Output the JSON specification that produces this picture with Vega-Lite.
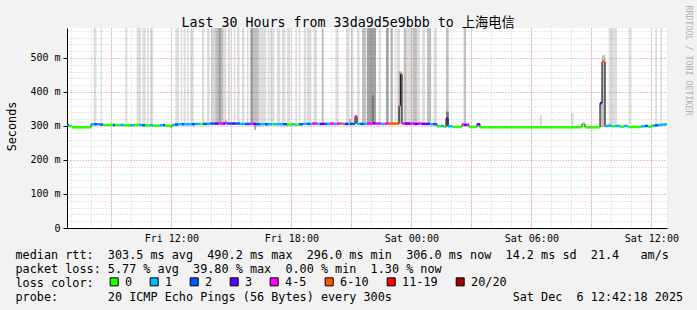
{
  "$schema": "https://vega.github.io/schema/vega-lite/v6.json",
  "width": 600,
  "height": 200,
  "autosize": {"type": "none"},
  "padding": {"left": 67, "top": 28, "right": 30, "bottom": 82},
  "background": "#f2f2f2",
  "config": {
    "view": {"fill": "#ffffff", "stroke": null},
    "font": "DejaVu Sans Mono"
  },
  "datasets": {
    "smoke": [
      {"t": "2025-12-05T08:07", "e": "2025-12-05T08:15", "lo": 304, "hi": 600, "pings": 3},
      {"t": "2025-12-05T08:28", "e": "2025-12-05T08:32", "lo": 304, "hi": 600, "pings": 3},
      {"t": "2025-12-05T09:42", "e": "2025-12-05T09:48", "lo": 304, "hi": 600, "pings": 3},
      {"t": "2025-12-05T10:16", "e": "2025-12-05T10:29", "lo": 304, "hi": 600, "pings": 3},
      {"t": "2025-12-05T10:33", "e": "2025-12-05T10:43", "lo": 304, "hi": 600, "pings": 3},
      {"t": "2025-12-05T10:47", "e": "2025-12-05T10:52", "lo": 304, "hi": 600, "pings": 3},
      {"t": "2025-12-05T10:56", "e": "2025-12-05T11:05", "lo": 304, "hi": 600, "pings": 3},
      {"t": "2025-12-05T12:12", "e": "2025-12-05T12:23", "lo": 304, "hi": 600, "pings": 3},
      {"t": "2025-12-05T12:28", "e": "2025-12-05T12:33", "lo": 304, "hi": 600, "pings": 3},
      {"t": "2025-12-05T12:37", "e": "2025-12-05T12:43", "lo": 304, "hi": 600, "pings": 3},
      {"t": "2025-12-05T12:47", "e": "2025-12-05T12:52", "lo": 304, "hi": 600, "pings": 3},
      {"t": "2025-12-05T12:57", "e": "2025-12-05T13:07", "lo": 304, "hi": 600, "pings": 3},
      {"t": "2025-12-05T13:32", "e": "2025-12-05T13:39", "lo": 304, "hi": 600, "pings": 3},
      {"t": "2025-12-05T13:47", "e": "2025-12-05T13:55", "lo": 304, "hi": 600, "pings": 3},
      {"t": "2025-12-05T13:59", "e": "2025-12-05T14:12", "lo": 304, "hi": 600, "pings": 4},
      {"t": "2025-12-05T14:12", "e": "2025-12-05T14:21", "lo": 304, "hi": 600, "pings": 7},
      {"t": "2025-12-05T14:21", "e": "2025-12-05T14:30", "lo": 304, "hi": 600, "pings": 11},
      {"t": "2025-12-05T14:30", "e": "2025-12-05T14:35", "lo": 304, "hi": 600, "pings": 7},
      {"t": "2025-12-05T14:35", "e": "2025-12-05T14:45", "lo": 304, "hi": 600, "pings": 3},
      {"t": "2025-12-05T14:49", "e": "2025-12-05T14:57", "lo": 304, "hi": 600, "pings": 3},
      {"t": "2025-12-05T15:07", "e": "2025-12-05T15:12", "lo": 304, "hi": 600, "pings": 3},
      {"t": "2025-12-05T15:17", "e": "2025-12-05T15:25", "lo": 304, "hi": 600, "pings": 3},
      {"t": "2025-12-05T15:32", "e": "2025-12-05T15:39", "lo": 304, "hi": 600, "pings": 3},
      {"t": "2025-12-05T15:47", "e": "2025-12-05T15:52", "lo": 304, "hi": 600, "pings": 3},
      {"t": "2025-12-05T15:57", "e": "2025-12-05T16:05", "lo": 304, "hi": 600, "pings": 11},
      {"t": "2025-12-05T16:05", "e": "2025-12-05T16:22", "lo": 304, "hi": 600, "pings": 7},
      {"t": "2025-12-05T16:22", "e": "2025-12-05T16:45", "lo": 304, "hi": 600, "pings": 3},
      {"t": "2025-12-05T16:49", "e": "2025-12-05T16:55", "lo": 304, "hi": 600, "pings": 3},
      {"t": "2025-12-05T16:57", "e": "2025-12-05T17:09", "lo": 304, "hi": 600, "pings": 3},
      {"t": "2025-12-05T17:17", "e": "2025-12-05T17:27", "lo": 304, "hi": 600, "pings": 3},
      {"t": "2025-12-05T17:32", "e": "2025-12-05T17:42", "lo": 304, "hi": 600, "pings": 3},
      {"t": "2025-12-05T17:47", "e": "2025-12-05T17:57", "lo": 304, "hi": 600, "pings": 3},
      {"t": "2025-12-05T18:12", "e": "2025-12-05T18:17", "lo": 304, "hi": 600, "pings": 3},
      {"t": "2025-12-05T18:22", "e": "2025-12-05T18:27", "lo": 304, "hi": 600, "pings": 3},
      {"t": "2025-12-05T18:37", "e": "2025-12-05T18:45", "lo": 304, "hi": 600, "pings": 3},
      {"t": "2025-12-05T18:47", "e": "2025-12-05T18:59", "lo": 304, "hi": 600, "pings": 3},
      {"t": "2025-12-05T19:07", "e": "2025-12-05T19:17", "lo": 304, "hi": 600, "pings": 3},
      {"t": "2025-12-05T19:31", "e": "2025-12-05T19:37", "lo": 304, "hi": 600, "pings": 7},
      {"t": "2025-12-05T20:12", "e": "2025-12-05T20:22", "lo": 304, "hi": 600, "pings": 3},
      {"t": "2025-12-05T20:44", "e": "2025-12-05T20:55", "lo": 304, "hi": 600, "pings": 3},
      {"t": "2025-12-05T21:00", "e": "2025-12-05T21:07", "lo": 304, "hi": 600, "pings": 3},
      {"t": "2025-12-05T21:17", "e": "2025-12-05T21:25", "lo": 304, "hi": 600, "pings": 3},
      {"t": "2025-12-05T21:32", "e": "2025-12-05T21:45", "lo": 304, "hi": 600, "pings": 7},
      {"t": "2025-12-05T21:47", "e": "2025-12-05T22:14", "lo": 304, "hi": 600, "pings": 11},
      {"t": "2025-12-05T22:22", "e": "2025-12-05T22:29", "lo": 304, "hi": 600, "pings": 3},
      {"t": "2025-12-05T22:44", "e": "2025-12-05T22:52", "lo": 304, "hi": 600, "pings": 11},
      {"t": "2025-12-05T22:57", "e": "2025-12-05T23:05", "lo": 304, "hi": 600, "pings": 7},
      {"t": "2025-12-05T23:10", "e": "2025-12-05T23:15", "lo": 304, "hi": 600, "pings": 3},
      {"t": "2025-12-05T23:17", "e": "2025-12-05T23:26", "lo": 304, "hi": 600, "pings": 3},
      {"t": "2025-12-05T23:37", "e": "2025-12-05T23:45", "lo": 304, "hi": 600, "pings": 7},
      {"t": "2025-12-05T23:45", "e": "2025-12-06T00:05", "lo": 304, "hi": 600, "pings": 3},
      {"t": "2025-12-06T00:05", "e": "2025-12-06T00:17", "lo": 304, "hi": 600, "pings": 7},
      {"t": "2025-12-06T00:17", "e": "2025-12-06T00:27", "lo": 304, "hi": 600, "pings": 3},
      {"t": "2025-12-06T00:32", "e": "2025-12-06T00:42", "lo": 304, "hi": 600, "pings": 3},
      {"t": "2025-12-06T00:47", "e": "2025-12-06T00:59", "lo": 304, "hi": 600, "pings": 7},
      {"t": "2025-12-06T01:07", "e": "2025-12-06T01:17", "lo": 304, "hi": 600, "pings": 3},
      {"t": "2025-12-06T01:44", "e": "2025-12-06T01:52", "lo": 304, "hi": 600, "pings": 7},
      {"t": "2025-12-06T02:37", "e": "2025-12-06T02:44", "lo": 304, "hi": 600, "pings": 7},
      {"t": "2025-12-06T09:52", "e": "2025-12-06T10:17", "lo": 304, "hi": 600, "pings": 3},
      {"t": "2025-12-06T10:52", "e": "2025-12-06T10:59", "lo": 304, "hi": 600, "pings": 3},
      {"t": "2025-12-06T12:12", "e": "2025-12-06T12:17", "lo": 304, "hi": 600, "pings": 3},
      {"t": "2025-12-06T12:27", "e": "2025-12-06T12:32", "lo": 304, "hi": 600, "pings": 3},
      {"t": "2025-12-06T06:25", "e": "2025-12-06T06:32", "lo": 296, "hi": 332, "pings": 3},
      {"t": "2025-12-06T07:59", "e": "2025-12-06T08:07", "lo": 296, "hi": 337, "pings": 3},
      {"t": "2025-12-06T09:27", "e": "2025-12-06T09:32", "lo": 296, "hi": 372, "pings": 7},
      {"t": "2025-12-06T09:32", "e": "2025-12-06T09:42", "lo": 296, "hi": 508, "pings": 7},
      {"t": "2025-12-06T01:44", "e": "2025-12-06T01:53", "lo": 298, "hi": 342, "pings": 11},
      {"t": "2025-12-05T22:02", "e": "2025-12-05T22:08", "lo": 306, "hi": 390, "pings": 7},
      {"t": "2025-12-05T20:53", "e": "2025-12-05T20:59", "lo": 306, "hi": 320, "pings": 7},
      {"t": "2025-12-05T14:42", "e": "2025-12-05T14:46", "lo": 306, "hi": 317, "pings": 11},
      {"t": "2025-12-05T16:09", "e": "2025-12-05T16:14", "lo": 288, "hi": 306, "pings": 11},
      {"t": "2025-12-05T23:22", "e": "2025-12-05T23:32", "lo": 306, "hi": 461, "pings": 7},
      {"t": "2025-12-05T21:11", "e": "2025-12-05T21:17", "lo": 306, "hi": 333, "pings": 7}
    ],
    "med": [
      {"t": "2025-12-05T06:47", "e": "2025-12-05T06:53", "rtt": 303, "loss": "2"},
      {"t": "2025-12-05T06:53", "e": "2025-12-05T07:02", "rtt": 300, "loss": "0"},
      {"t": "2025-12-05T07:02", "e": "2025-12-05T07:59", "rtt": 296, "loss": "0"},
      {"t": "2025-12-05T07:59", "e": "2025-12-05T08:08", "rtt": 305, "loss": "1"},
      {"t": "2025-12-05T08:08", "e": "2025-12-05T08:17", "rtt": 305, "loss": "2"},
      {"t": "2025-12-05T08:17", "e": "2025-12-05T08:23", "rtt": 305, "loss": "1"},
      {"t": "2025-12-05T08:23", "e": "2025-12-05T08:27", "rtt": 305, "loss": "4-5"},
      {"t": "2025-12-05T08:27", "e": "2025-12-05T08:35", "rtt": 304, "loss": "2"},
      {"t": "2025-12-05T08:35", "e": "2025-12-05T09:05", "rtt": 303, "loss": "0"},
      {"t": "2025-12-05T09:05", "e": "2025-12-05T09:11", "rtt": 303, "loss": "2"},
      {"t": "2025-12-05T09:11", "e": "2025-12-05T09:26", "rtt": 303, "loss": "0"},
      {"t": "2025-12-05T09:26", "e": "2025-12-05T09:38", "rtt": 303, "loss": "1"},
      {"t": "2025-12-05T09:38", "e": "2025-12-05T09:56", "rtt": 302, "loss": "0"},
      {"t": "2025-12-05T09:56", "e": "2025-12-05T10:08", "rtt": 302, "loss": "1"},
      {"t": "2025-12-05T10:08", "e": "2025-12-05T10:23", "rtt": 303, "loss": "0"},
      {"t": "2025-12-05T10:23", "e": "2025-12-05T10:32", "rtt": 303, "loss": "1"},
      {"t": "2025-12-05T10:32", "e": "2025-12-05T10:41", "rtt": 302, "loss": "2"},
      {"t": "2025-12-05T10:41", "e": "2025-12-05T10:56", "rtt": 302, "loss": "0"},
      {"t": "2025-12-05T10:56", "e": "2025-12-05T11:05", "rtt": 302, "loss": "1"},
      {"t": "2025-12-05T11:05", "e": "2025-12-05T11:26", "rtt": 301, "loss": "0"},
      {"t": "2025-12-05T11:26", "e": "2025-12-05T11:35", "rtt": 302, "loss": "1"},
      {"t": "2025-12-05T11:35", "e": "2025-12-05T11:41", "rtt": 303, "loss": "2"},
      {"t": "2025-12-05T11:41", "e": "2025-12-05T11:56", "rtt": 301, "loss": "0"},
      {"t": "2025-12-05T11:56", "e": "2025-12-05T12:02", "rtt": 298, "loss": "0"},
      {"t": "2025-12-05T12:02", "e": "2025-12-05T12:11", "rtt": 303, "loss": "1"},
      {"t": "2025-12-05T12:11", "e": "2025-12-05T12:20", "rtt": 304, "loss": "2"},
      {"t": "2025-12-05T12:20", "e": "2025-12-05T12:32", "rtt": 305, "loss": "1"},
      {"t": "2025-12-05T12:32", "e": "2025-12-05T12:38", "rtt": 305, "loss": "2"},
      {"t": "2025-12-05T12:38", "e": "2025-12-05T13:02", "rtt": 305, "loss": "1"},
      {"t": "2025-12-05T13:02", "e": "2025-12-05T13:11", "rtt": 305, "loss": "2"},
      {"t": "2025-12-05T13:11", "e": "2025-12-05T13:26", "rtt": 306, "loss": "1"},
      {"t": "2025-12-05T13:26", "e": "2025-12-05T13:35", "rtt": 306, "loss": "0"},
      {"t": "2025-12-05T13:35", "e": "2025-12-05T13:47", "rtt": 306, "loss": "2"},
      {"t": "2025-12-05T13:47", "e": "2025-12-05T13:56", "rtt": 306, "loss": "1"},
      {"t": "2025-12-05T13:56", "e": "2025-12-05T14:11", "rtt": 307, "loss": "2"},
      {"t": "2025-12-05T14:11", "e": "2025-12-05T14:20", "rtt": 307, "loss": "3"},
      {"t": "2025-12-05T14:20", "e": "2025-12-05T14:35", "rtt": 307, "loss": "4-5"},
      {"t": "2025-12-05T14:35", "e": "2025-12-05T14:41", "rtt": 307, "loss": "3"},
      {"t": "2025-12-05T14:41", "e": "2025-12-05T14:47", "rtt": 308, "loss": "4-5"},
      {"t": "2025-12-05T14:47", "e": "2025-12-05T15:02", "rtt": 307, "loss": "2"},
      {"t": "2025-12-05T15:02", "e": "2025-12-05T15:11", "rtt": 307, "loss": "3"},
      {"t": "2025-12-05T15:11", "e": "2025-12-05T15:26", "rtt": 307, "loss": "2"},
      {"t": "2025-12-05T15:26", "e": "2025-12-05T15:41", "rtt": 306, "loss": "1"},
      {"t": "2025-12-05T15:41", "e": "2025-12-05T15:56", "rtt": 306, "loss": "2"},
      {"t": "2025-12-05T15:56", "e": "2025-12-05T16:05", "rtt": 306, "loss": "4-5"},
      {"t": "2025-12-05T16:05", "e": "2025-12-05T16:14", "rtt": 306, "loss": "3"},
      {"t": "2025-12-05T16:14", "e": "2025-12-05T16:26", "rtt": 305, "loss": "2"},
      {"t": "2025-12-05T16:26", "e": "2025-12-05T16:41", "rtt": 305, "loss": "1"},
      {"t": "2025-12-05T16:41", "e": "2025-12-05T16:50", "rtt": 305, "loss": "2"},
      {"t": "2025-12-05T16:50", "e": "2025-12-05T17:02", "rtt": 305, "loss": "1"},
      {"t": "2025-12-05T17:02", "e": "2025-12-05T17:08", "rtt": 305, "loss": "0"},
      {"t": "2025-12-05T17:08", "e": "2025-12-05T17:35", "rtt": 305, "loss": "1"},
      {"t": "2025-12-05T17:35", "e": "2025-12-05T17:47", "rtt": 305, "loss": "2"},
      {"t": "2025-12-05T17:47", "e": "2025-12-05T18:02", "rtt": 304, "loss": "0"},
      {"t": "2025-12-05T18:02", "e": "2025-12-05T18:11", "rtt": 305, "loss": "1"},
      {"t": "2025-12-05T18:11", "e": "2025-12-05T18:23", "rtt": 304, "loss": "0"},
      {"t": "2025-12-05T18:23", "e": "2025-12-05T18:35", "rtt": 305, "loss": "2"},
      {"t": "2025-12-05T18:35", "e": "2025-12-05T18:47", "rtt": 306, "loss": "1"},
      {"t": "2025-12-05T18:47", "e": "2025-12-05T18:56", "rtt": 306, "loss": "2"},
      {"t": "2025-12-05T18:56", "e": "2025-12-05T19:02", "rtt": 306, "loss": "1"},
      {"t": "2025-12-05T19:02", "e": "2025-12-05T19:17", "rtt": 307, "loss": "4-5"},
      {"t": "2025-12-05T19:17", "e": "2025-12-05T19:26", "rtt": 306, "loss": "1"},
      {"t": "2025-12-05T19:26", "e": "2025-12-05T19:38", "rtt": 306, "loss": "3"},
      {"t": "2025-12-05T19:38", "e": "2025-12-05T19:47", "rtt": 306, "loss": "2"},
      {"t": "2025-12-05T19:47", "e": "2025-12-05T19:56", "rtt": 306, "loss": "1"},
      {"t": "2025-12-05T19:56", "e": "2025-12-05T20:08", "rtt": 307, "loss": "4-5"},
      {"t": "2025-12-05T20:08", "e": "2025-12-05T20:17", "rtt": 306, "loss": "1"},
      {"t": "2025-12-05T20:17", "e": "2025-12-05T20:26", "rtt": 307, "loss": "4-5"},
      {"t": "2025-12-05T20:26", "e": "2025-12-05T20:35", "rtt": 307, "loss": "6-10"},
      {"t": "2025-12-05T20:35", "e": "2025-12-05T20:41", "rtt": 306, "loss": "1"},
      {"t": "2025-12-05T20:41", "e": "2025-12-05T20:50", "rtt": 306, "loss": "3"},
      {"t": "2025-12-05T20:50", "e": "2025-12-05T20:56", "rtt": 306, "loss": "1"},
      {"t": "2025-12-05T20:56", "e": "2025-12-05T21:11", "rtt": 306, "loss": "2"},
      {"t": "2025-12-05T21:11", "e": "2025-12-05T21:17", "rtt": 328, "loss": "4-5"},
      {"t": "2025-12-05T21:17", "e": "2025-12-05T21:26", "rtt": 306, "loss": "1"},
      {"t": "2025-12-05T21:26", "e": "2025-12-05T21:38", "rtt": 306, "loss": "2"},
      {"t": "2025-12-05T21:38", "e": "2025-12-05T21:47", "rtt": 306, "loss": "1"},
      {"t": "2025-12-05T21:47", "e": "2025-12-05T22:05", "rtt": 307, "loss": "4-5"},
      {"t": "2025-12-05T22:05", "e": "2025-12-05T22:11", "rtt": 308, "loss": "3"},
      {"t": "2025-12-05T22:11", "e": "2025-12-05T22:29", "rtt": 307, "loss": "4-5"},
      {"t": "2025-12-05T22:29", "e": "2025-12-05T22:41", "rtt": 306, "loss": "1"},
      {"t": "2025-12-05T22:41", "e": "2025-12-05T22:50", "rtt": 307, "loss": "4-5"},
      {"t": "2025-12-05T22:50", "e": "2025-12-05T23:23", "rtt": 307, "loss": "6-10"},
      {"t": "2025-12-05T23:23", "e": "2025-12-05T23:28", "rtt": 359, "loss": "6-10"},
      {"t": "2025-12-05T23:28", "e": "2025-12-05T23:32", "rtt": 453, "loss": "6-10"},
      {"t": "2025-12-05T23:32", "e": "2025-12-05T23:41", "rtt": 307, "loss": "4-5"},
      {"t": "2025-12-05T23:41", "e": "2025-12-05T23:56", "rtt": 307, "loss": "3"},
      {"t": "2025-12-05T23:56", "e": "2025-12-06T00:08", "rtt": 307, "loss": "4-5"},
      {"t": "2025-12-06T00:08", "e": "2025-12-06T00:20", "rtt": 306, "loss": "3"},
      {"t": "2025-12-06T00:20", "e": "2025-12-06T00:32", "rtt": 307, "loss": "4-5"},
      {"t": "2025-12-06T00:32", "e": "2025-12-06T00:56", "rtt": 306, "loss": "3"},
      {"t": "2025-12-06T00:56", "e": "2025-12-06T01:05", "rtt": 305, "loss": "1"},
      {"t": "2025-12-06T01:05", "e": "2025-12-06T01:17", "rtt": 305, "loss": "2"},
      {"t": "2025-12-06T01:17", "e": "2025-12-06T01:29", "rtt": 299, "loss": "0"},
      {"t": "2025-12-06T01:29", "e": "2025-12-06T01:38", "rtt": 300, "loss": "1"},
      {"t": "2025-12-06T01:38", "e": "2025-12-06T01:44", "rtt": 298, "loss": "0"},
      {"t": "2025-12-06T01:44", "e": "2025-12-06T01:50", "rtt": 322, "loss": "3"},
      {"t": "2025-12-06T01:50", "e": "2025-12-06T02:05", "rtt": 299, "loss": "1"},
      {"t": "2025-12-06T02:05", "e": "2025-12-06T02:32", "rtt": 297, "loss": "0"},
      {"t": "2025-12-06T02:32", "e": "2025-12-06T02:38", "rtt": 304, "loss": "4-5"},
      {"t": "2025-12-06T02:38", "e": "2025-12-06T02:47", "rtt": 303, "loss": "3"},
      {"t": "2025-12-06T02:47", "e": "2025-12-06T02:53", "rtt": 304, "loss": "4-5"},
      {"t": "2025-12-06T02:53", "e": "2025-12-06T03:17", "rtt": 297, "loss": "0"},
      {"t": "2025-12-06T03:17", "e": "2025-12-06T03:26", "rtt": 305, "loss": "3"},
      {"t": "2025-12-06T03:26", "e": "2025-12-06T08:32", "rtt": 296, "loss": "0"},
      {"t": "2025-12-06T08:32", "e": "2025-12-06T08:41", "rtt": 306, "loss": "0"},
      {"t": "2025-12-06T08:41", "e": "2025-12-06T09:26", "rtt": 296, "loss": "0"},
      {"t": "2025-12-06T09:26", "e": "2025-12-06T09:32", "rtt": 367, "loss": "3"},
      {"t": "2025-12-06T09:32", "e": "2025-12-06T09:41", "rtt": 489, "loss": "6-10"},
      {"t": "2025-12-06T09:41", "e": "2025-12-06T09:50", "rtt": 300, "loss": "1"},
      {"t": "2025-12-06T09:50", "e": "2025-12-06T10:02", "rtt": 301, "loss": "1"},
      {"t": "2025-12-06T10:02", "e": "2025-12-06T10:11", "rtt": 299, "loss": "0"},
      {"t": "2025-12-06T10:11", "e": "2025-12-06T10:26", "rtt": 300, "loss": "1"},
      {"t": "2025-12-06T10:26", "e": "2025-12-06T10:38", "rtt": 298, "loss": "0"},
      {"t": "2025-12-06T10:38", "e": "2025-12-06T10:50", "rtt": 300, "loss": "1"},
      {"t": "2025-12-06T10:50", "e": "2025-12-06T11:29", "rtt": 297, "loss": "0"},
      {"t": "2025-12-06T11:29", "e": "2025-12-06T11:41", "rtt": 299, "loss": "1"},
      {"t": "2025-12-06T11:41", "e": "2025-12-06T11:50", "rtt": 300, "loss": "2"},
      {"t": "2025-12-06T11:50", "e": "2025-12-06T12:02", "rtt": 298, "loss": "0"},
      {"t": "2025-12-06T12:02", "e": "2025-12-06T12:11", "rtt": 301, "loss": "1"},
      {"t": "2025-12-06T12:11", "e": "2025-12-06T12:20", "rtt": 302, "loss": "2"},
      {"t": "2025-12-06T12:20", "e": "2025-12-06T12:29", "rtt": 303, "loss": "1"},
      {"t": "2025-12-06T12:29", "e": "2025-12-06T12:41", "rtt": 304, "loss": "1"},
      {"t": "2025-12-06T12:41", "e": "2025-12-06T12:47", "rtt": 305, "loss": "1"}
    ]
  },
  "resolve": {"axis": {"x": "independent", "y": "independent"}},
  "layer": [
    {
      "data": {"name": "smoke"},
      "mark": {"type": "rect", "clip": true, "color": "#000000"},
      "encoding": {
        "x": {
          "field": "t", "type": "temporal",
          "scale": {"domain": [{"year": 2025, "month": 12, "date": 5, "hours": 6, "minutes": 47}, {"year": 2025, "month": 12, "date": 6, "hours": 12, "minutes": 47}], "padding": 0},
          "axis": {
            "orient": "top", "grid": true, "gridColor": "#cccccc", "gridDash": [1, 2],
            "values": [
              {"year": 2025, "month": 12, "date": 5, "hours": 7}, {"year": 2025, "month": 12, "date": 5, "hours": 8}, {"year": 2025, "month": 12, "date": 5, "hours": 9},
              {"year": 2025, "month": 12, "date": 5, "hours": 10}, {"year": 2025, "month": 12, "date": 5, "hours": 11}, {"year": 2025, "month": 12, "date": 5, "hours": 12},
              {"year": 2025, "month": 12, "date": 5, "hours": 13}, {"year": 2025, "month": 12, "date": 5, "hours": 14}, {"year": 2025, "month": 12, "date": 5, "hours": 15},
              {"year": 2025, "month": 12, "date": 5, "hours": 16}, {"year": 2025, "month": 12, "date": 5, "hours": 17}, {"year": 2025, "month": 12, "date": 5, "hours": 18},
              {"year": 2025, "month": 12, "date": 5, "hours": 19}, {"year": 2025, "month": 12, "date": 5, "hours": 20}, {"year": 2025, "month": 12, "date": 5, "hours": 21},
              {"year": 2025, "month": 12, "date": 5, "hours": 22}, {"year": 2025, "month": 12, "date": 5, "hours": 23}, {"year": 2025, "month": 12, "date": 6, "hours": 0},
              {"year": 2025, "month": 12, "date": 6, "hours": 1}, {"year": 2025, "month": 12, "date": 6, "hours": 2}, {"year": 2025, "month": 12, "date": 6, "hours": 3},
              {"year": 2025, "month": 12, "date": 6, "hours": 4}, {"year": 2025, "month": 12, "date": 6, "hours": 5}, {"year": 2025, "month": 12, "date": 6, "hours": 6},
              {"year": 2025, "month": 12, "date": 6, "hours": 7}, {"year": 2025, "month": 12, "date": 6, "hours": 8}, {"year": 2025, "month": 12, "date": 6, "hours": 9},
              {"year": 2025, "month": 12, "date": 6, "hours": 10}, {"year": 2025, "month": 12, "date": 6, "hours": 11}, {"year": 2025, "month": 12, "date": 6, "hours": 12}
            ],
            "labels": false, "ticks": false, "domain": false,
            "title": "Last 30 Hours from 33da9d5e9bbb to 上海电信",
            "titleFont": "DejaVu Sans Mono, Noto Sans CJK SC", "titleFontSize": 13.3, "titleFontWeight": "normal", "titleColor": "#000000",
            "titleX": 280.7, "titleY": -1.5, "titleAlign": "center", "titleBaseline": "alphabetic", "titleAngle": 0
          }
        },
        "x2": {"field": "e"},
        "y": {
          "field": "lo", "type": "quantitative",
          "scale": {"domain": [0, 588], "nice": false, "padding": 0},
          "axis": {
            "orient": "right", "grid": true, "gridColor": "#cccccc", "gridDash": [1, 2],
            "values": [20, 40, 60, 80, 120, 140, 160, 180, 220, 240, 260, 280, 320, 340, 360, 380, 420, 440, 460, 480, 520, 540, 560, 580],
            "labels": false, "ticks": false, "domain": false,
            "title": "RRDTOOL / TOBI OETIKER",
            "titleFont": "DejaVu Sans Mono", "titleFontSize": 8.3, "titleFontWeight": "normal", "titleColor": "#b0b0b0",
            "titleAngle": 90, "titleX": 20, "titleY": -23, "titleAlign": "left", "titleBaseline": "middle"
          }
        },
        "y2": {"field": "hi"},
        "opacity": {"field": "pings", "type": "quantitative", "scale": {"domain": [3, 11], "range": [0.13, 0.36]}, "legend": null}
      }
    },
    {
      "data": {"name": "med"},
      "mark": {"type": "line", "interpolate": "step-after", "color": "#000000", "strokeWidth": 1},
      "encoding": {
        "x": {
          "field": "t", "type": "temporal",
          "axis": {
            "orient": "bottom", "grid": true, "gridColor": "#e08888", "gridDash": [1, 2],
            "values": [
              {"year": 2025, "month": 12, "date": 5, "hours": 9}, {"year": 2025, "month": 12, "date": 5, "hours": 12}, {"year": 2025, "month": 12, "date": 5, "hours": 15},
              {"year": 2025, "month": 12, "date": 5, "hours": 18}, {"year": 2025, "month": 12, "date": 5, "hours": 21}, {"year": 2025, "month": 12, "date": 6, "hours": 0},
              {"year": 2025, "month": 12, "date": 6, "hours": 3}, {"year": 2025, "month": 12, "date": 6, "hours": 6}, {"year": 2025, "month": 12, "date": 6, "hours": 9},
              {"year": 2025, "month": 12, "date": 6, "hours": 12}
            ],
            "labels": false, "ticks": false, "domain": false, "title": null
          }
        },
        "y": {
          "field": "rtt", "type": "quantitative",
          "axis": {
            "orient": "left", "grid": true, "gridColor": "#e08888", "gridDash": [1, 2],
            "values": [100, 200, 300, 400, 500],
            "labels": false, "ticks": false, "domain": false, "title": null
          }
        }
      }
    },
    {
      "data": {"name": "med"},
      "mark": {"type": "bar", "height": 2.5},
      "encoding": {
        "x": {
          "field": "t", "type": "temporal",
          "axis": {
            "orient": "bottom", "grid": false,
            "values": [
              {"year": 2025, "month": 12, "date": 5, "hours": 12}, {"year": 2025, "month": 12, "date": 5, "hours": 18}, {"year": 2025, "month": 12, "date": 6, "hours": 0},
              {"year": 2025, "month": 12, "date": 6, "hours": 6}, {"year": 2025, "month": 12, "date": 6, "hours": 12}
            ],
            "format": "%a %H:%M",
            "labelFont": "DejaVu Sans Mono", "labelFontSize": 10, "labelColor": "#000000",
            "labelPadding": 5, "labelFlush": false, "labelOverlap": false,
            "ticks": false, "domain": true, "domainColor": "#000000", "domainWidth": 1,
            "title": [
              "median rtt:\u00a0\u00a0303.5 ms avg\u00a0\u00a0490.2 ms max\u00a0\u00a0296.0 ms min\u00a0\u00a0306.0 ms now\u00a0\u00a014.2 ms sd\u00a0\u00a021.4\u00a0\u00a0\u00a0am/s",
              "packet loss: 5.77 % avg\u00a0\u00a039.80 % max\u00a0\u00a00.00 % min\u00a0\u00a01.30 % now",
              "loss color:",
              "probe:\u00a0\u00a0\u00a0\u00a0\u00a0\u00a0\u00a020 ICMP Echo Pings (56 Bytes) every 300s\u00a0\u00a0\u00a0\u00a0\u00a0\u00a0\u00a0\u00a0\u00a0\u00a0\u00a0\u00a0\u00a0\u00a0\u00a0\u00a0\u00a0Sat Dec\u00a0\u00a06 12:42:18 2025"
            ],
            "titleFont": "DejaVu Sans Mono", "titleFontSize": 11.8, "titleFontWeight": "normal", "titleColor": "#000000",
            "titleX": -52, "titleY": 30, "titleAlign": "left", "titleAnchor": "start", "titleBaseline": "alphabetic", "titleLineHeight": 14, "titleAngle": 0
          }
        },
        "x2": {"field": "e"},
        "y": {
          "field": "rtt", "type": "quantitative",
          "axis": {
            "orient": "left", "grid": false,
            "values": [0, 100, 200, 300, 400, 500],
            "labelExpr": "datum.value == 0 ? '0' : datum.value + ' m'",
            "labelFont": "DejaVu Sans Mono", "labelFontSize": 10, "labelColor": "#000000",
            "labelFlush": false, "labelOverlap": false,
            "tickSize": 4, "tickColor": "#000000", "labelPadding": 3,
            "domain": true, "domainColor": "#000000", "domainWidth": 1,
            "title": "Seconds",
            "titleFont": "DejaVu Sans Mono", "titleFontSize": 11.8, "titleFontWeight": "normal", "titleColor": "#000000",
            "titleX": -56, "titleY": 98, "titleAngle": -90, "titleAlign": "center", "titleBaseline": "middle"
          }
        },
        "color": {
          "field": "loss", "type": "nominal",
          "scale": {
            "domain": ["0", "1", "2", "3", "4-5", "6-10", "11-19", "20/20"],
            "range": ["#26ff00", "#00b8ff", "#0059ff", "#5e00ff", "#ff00ff", "#ff5500", "#ff0000", "#a00000"]
          },
          "legend": {
            "title": null, "orient": "none", "legendX": 41.3, "legendY": 247.8, "direction": "horizontal",
            "padding": 0, "columnPadding": 15, "labelOffset": 5,
            "symbolType": "square", "symbolSize": 64, "symbolStrokeWidth": 1, "symbolStrokeColor": "#000000",
            "labelFont": "DejaVu Sans Mono", "labelFontSize": 11.8, "labelColor": "#000000"
          }
        }
      }
    }
  ]
}
